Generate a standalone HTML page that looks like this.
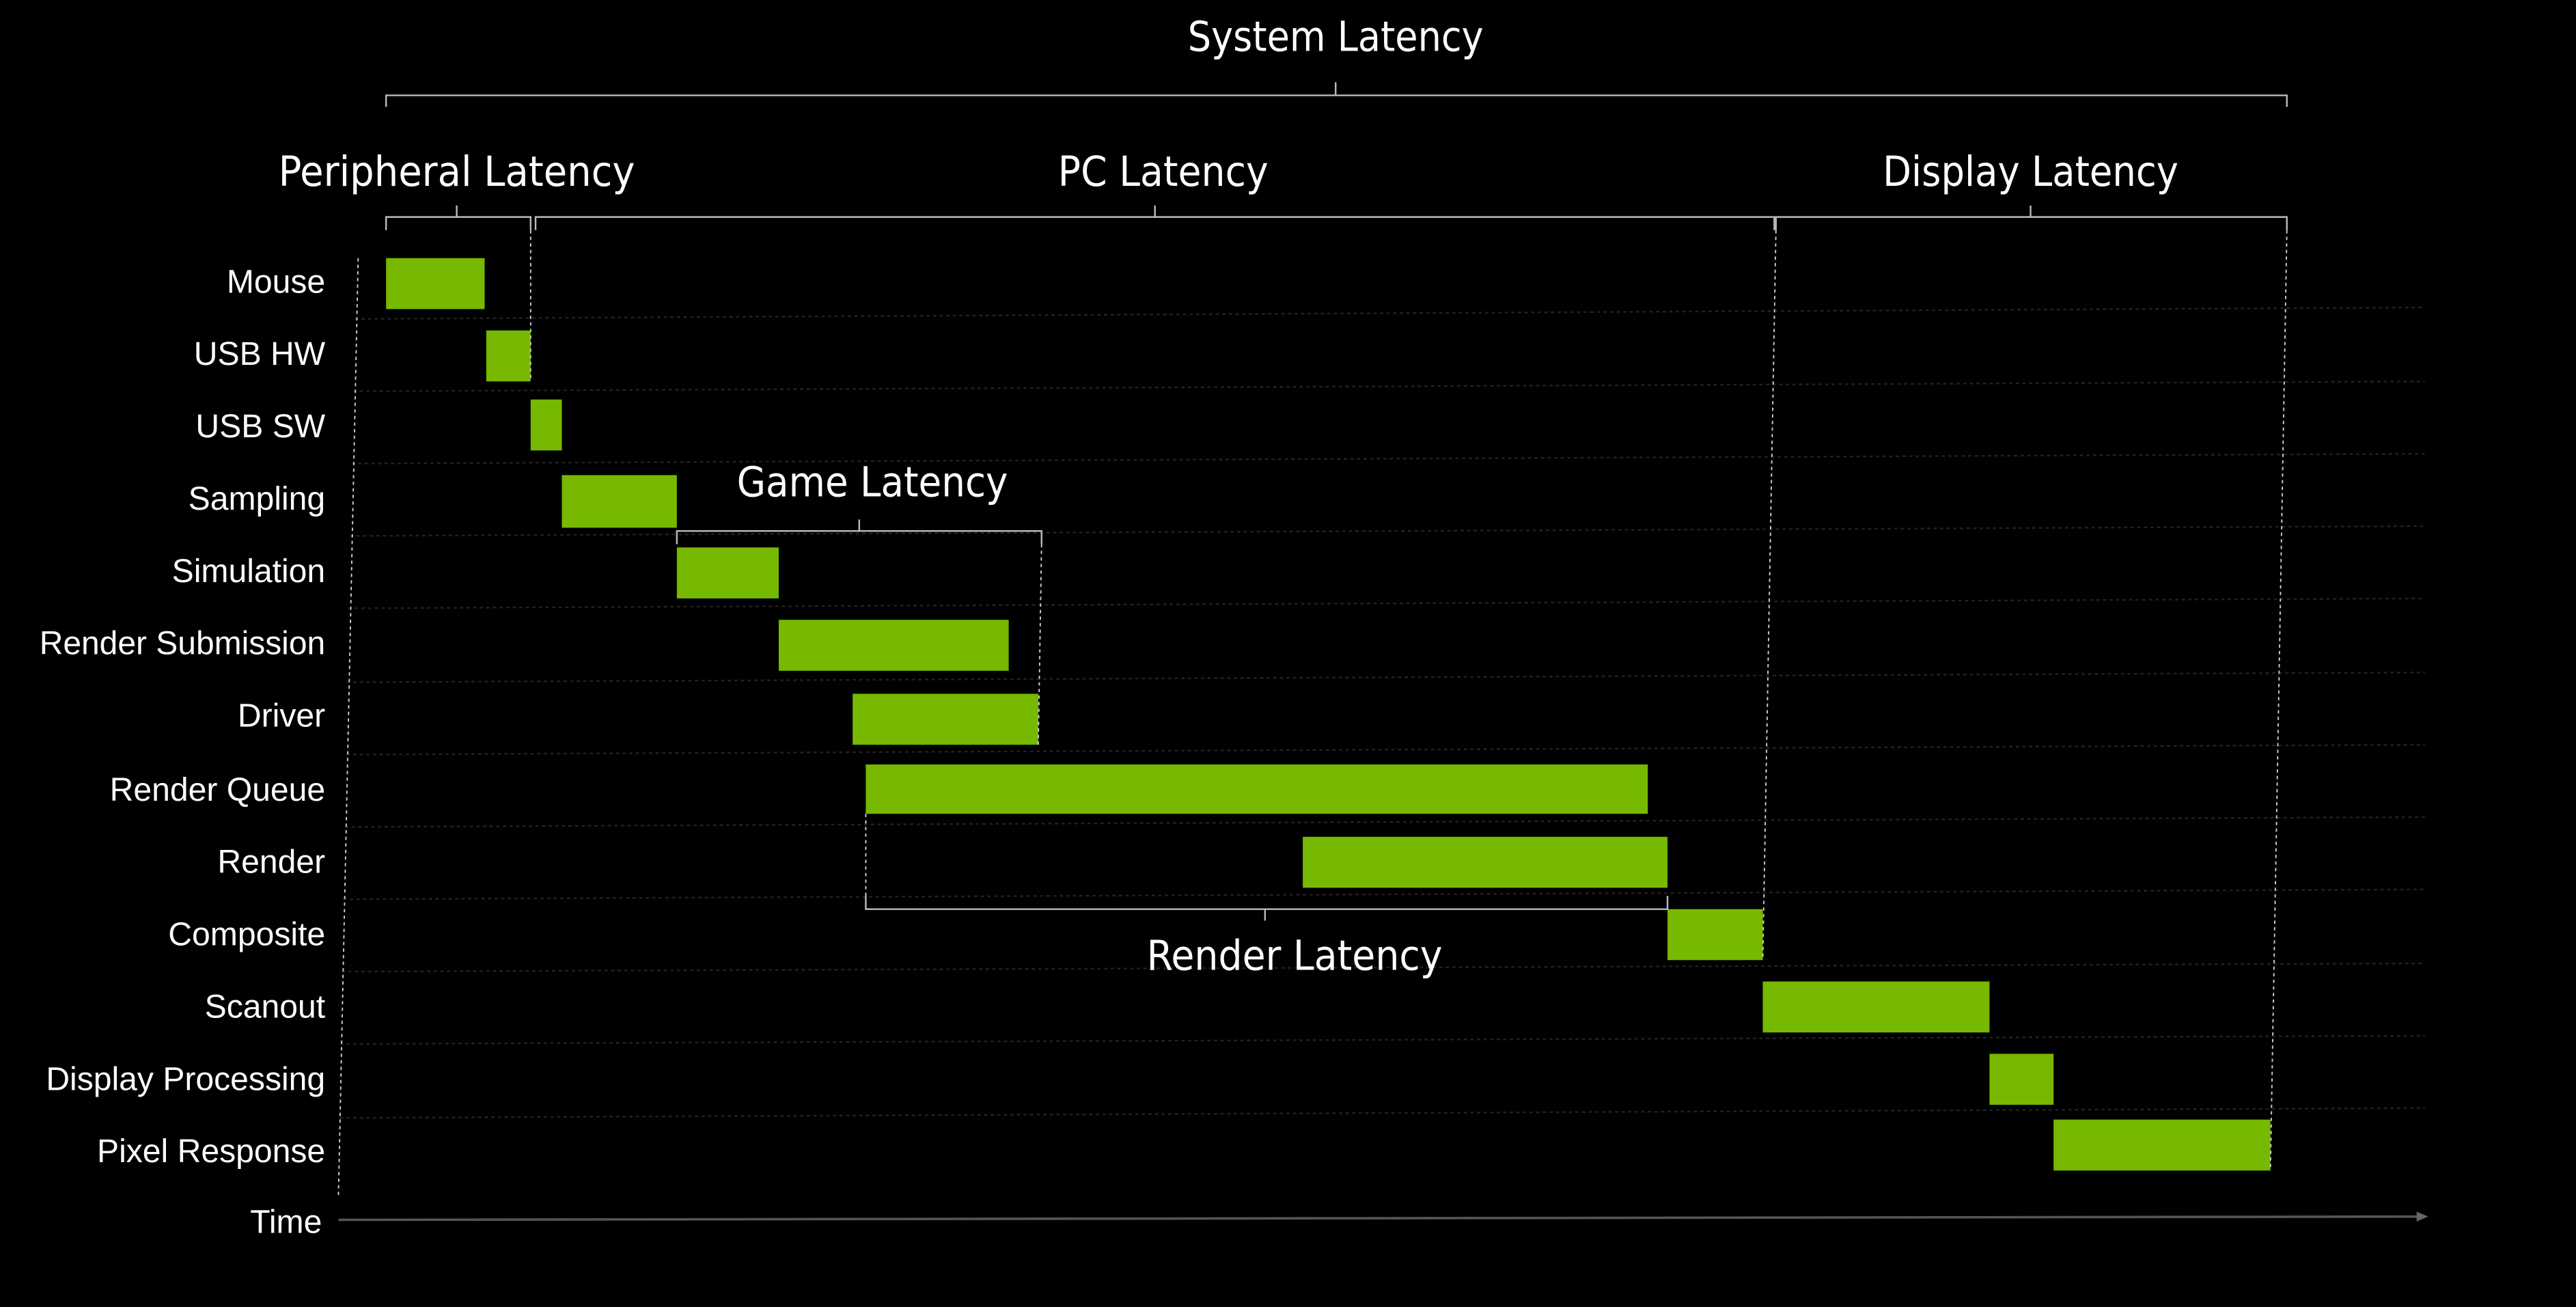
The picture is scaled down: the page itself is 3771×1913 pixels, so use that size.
<!DOCTYPE html>
<html><head><meta charset="utf-8"><style>
html,body{margin:0;padding:0;background:#000;}
svg{display:block;}
.l{font-family:"Liberation Sans",Arial,sans-serif;font-size:20px;fill:#fff;text-anchor:end;}
.h{font-family:"DejaVu Sans Condensed","DejaVu Sans","Liberation Sans",sans-serif;font-size:25px;fill:#fff;text-anchor:middle;}
.b{fill:none;stroke:#bbb;stroke-width:1;}
.g{stroke:#222;stroke-width:1;stroke-dasharray:2 2;}
.v{stroke:#ccc;stroke-width:0.8;stroke-dasharray:2 2;fill:none;}
</style></head><body>
<svg width="3771" height="1913" viewBox="0 0 1568 795" preserveAspectRatio="none" xmlns="http://www.w3.org/2000/svg">
<rect width="1568" height="795" fill="#000"/>
<g>
<line class="g" x1="216" y1="194" x2="1476" y2="187"/>
<line class="g" x1="215" y1="238" x2="1476" y2="232"/>
<line class="g" x1="214" y1="282" x2="1476" y2="276"/>
<line class="g" x1="213" y1="326" x2="1476" y2="320"/>
<line class="g" x1="212" y1="370" x2="1476" y2="364"/>
<line class="g" x1="211" y1="415" x2="1476" y2="409"/>
<line class="g" x1="211" y1="459" x2="1476" y2="453"/>
<line class="g" x1="210" y1="503" x2="1476" y2="497"/>
<line class="g" x1="209" y1="547" x2="1476" y2="541"/>
<line class="g" x1="208" y1="591" x2="1476" y2="586"/>
<line class="g" x1="207" y1="635" x2="1476" y2="630"/>
<line class="g" x1="207" y1="680" x2="1476" y2="674"/>
</g>
<line class="v" x1="218" y1="157" x2="206" y2="728" stroke="#aaa"/>
<line x1="206" y1="742" x2="1472" y2="740" stroke="#555" stroke-width="1.5"/>
<polygon points="1478,740 1471,737 1471,743" fill="#666"/>
<text class="l" x="196" y="750">Time</text>
<g fill="#76b900">
<rect x="235" y="157" width="60" height="31"/>
<rect x="296" y="201" width="27" height="31"/>
<rect x="323" y="243" width="19" height="31"/>
<rect x="342" y="289" width="70" height="32"/>
<rect x="412" y="333" width="62" height="31"/>
<rect x="474" y="377" width="140" height="31"/>
<rect x="519" y="422" width="113" height="31"/>
<rect x="527" y="465" width="476" height="30"/>
<rect x="793" y="509" width="222" height="31"/>
<rect x="1015" y="553" width="58" height="31"/>
<rect x="1073" y="597" width="138" height="31"/>
<rect x="1211" y="641" width="39" height="31"/>
<rect x="1250" y="681" width="132" height="31"/>
</g>
<text class="l" x="198" y="178">Mouse</text>
<text class="l" x="198" y="222">USB HW</text>
<text class="l" x="198" y="266">USB SW</text>
<text class="l" x="198" y="310">Sampling</text>
<text class="l" x="198" y="354">Simulation</text>
<text class="l" x="198" y="398" textLength="174" lengthAdjust="spacingAndGlyphs">Render Submission</text>
<text class="l" x="198" y="442">Driver</text>
<text class="l" x="198" y="487">Render Queue</text>
<text class="l" x="198" y="531">Render</text>
<text class="l" x="198" y="575">Composite</text>
<text class="l" x="198" y="619">Scanout</text>
<text class="l" x="198" y="663" textLength="170" lengthAdjust="spacingAndGlyphs">Display Processing</text>
<text class="l" x="198" y="707">Pixel Response</text>
<path class="b" d="M235,65 V58 H1392 V65 M813,58 V50"/>
<text class="h" x="813" y="31" textLength="180" lengthAdjust="spacingAndGlyphs">System Latency</text>
<path class="b" d="M235,140 V132 H323 V140 M278,132 V125"/>
<text class="h" x="278" y="113" textLength="217" lengthAdjust="spacingAndGlyphs">Peripheral Latency</text>
<path class="b" d="M326,140 V132 H1080 V140 M703,132 V125"/>
<text class="h" x="708" y="113" textLength="128" lengthAdjust="spacingAndGlyphs">PC Latency</text>
<path class="b" d="M1081,140 V132 H1392 V140 M1236,132 V125"/>
<text class="h" x="1236" y="113" textLength="180" lengthAdjust="spacingAndGlyphs">Display Latency</text>
<path class="b" d="M412,331 V323 H634 V331 M523,323 V316" stroke="#ddd"/>
<text class="h" x="531" y="302" textLength="165" lengthAdjust="spacingAndGlyphs">Game Latency</text>
<path class="b" d="M527,545 V553 H1015 V545 M770,553 V560" stroke="#ddd"/>
<text class="h" x="788" y="590" textLength="180" lengthAdjust="spacingAndGlyphs">Render Latency</text>
<line class="v" x1="323" y1="140" x2="323" y2="232"/>
<line class="v" x1="634" y1="331" x2="632" y2="453"/>
<line class="v" x1="527" y1="495" x2="527" y2="545"/>
<line class="v" x1="1081" y1="140" x2="1073" y2="584"/>
<line class="v" x1="1392" y1="140" x2="1382" y2="712"/>
</svg>
</body></html>
